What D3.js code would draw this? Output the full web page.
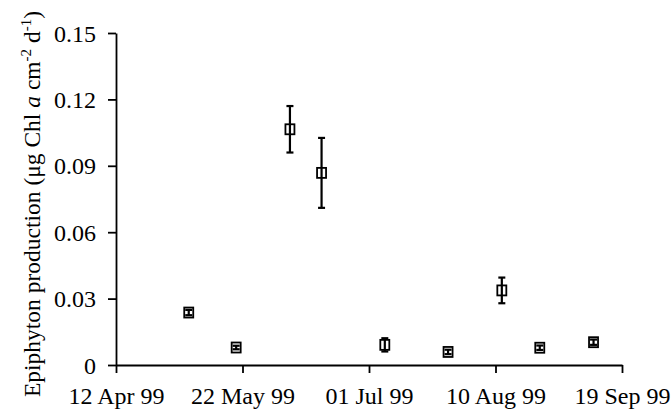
<!DOCTYPE html>
<html>
<head>
<meta charset="utf-8">
<script src="https://cdn.jsdelivr.net/npm/d3@7"></script>
<style>
  body { margin: 0; background: #fff; }
  svg text { font-family: "Liberation Serif", "Times New Roman", serif; fill: #000; }
</style>
</head>
<body>
<svg id="chart"></svg>
<script>
// sampling dates, mean production and error
const dates = ["1999-05-05", "1999-05-20", "1999-06-06", "1999-06-16", "1999-07-06",
               "1999-07-26", "1999-08-12", "1999-08-24", "1999-09-10"];
const means = [0.0237, 0.0079, 0.1065, 0.0868, 0.0091, 0.0059, 0.0337, 0.0078, 0.0103];
const errs  = [0.0012, 0.0008, 0.0105, 0.0158, 0.0030, 0.0010, 0.0058, 0.0010, 0.0012];

const xTicks = ["1999-04-12", "1999-05-22", "1999-07-01", "1999-08-10", "1999-09-19"];
const yTicks = [0, 0.03, 0.06, 0.09, 0.12, 0.15];

const W = 672, H = 415;
const parse = d3.timeParse("%Y-%m-%d");

const svg = d3.select('#chart')
  .attr('width', W)
  .attr('height', H);

const xScale = d3.scaleTime()
  .domain([parse(xTicks[0]), parse(xTicks[xTicks.length - 1])])
  .range([116, 622]);

const yScale = d3.scaleLinear()
  .domain([0, 0.15])
  .range([365, 33]);

const xAxis = svg.append('g')
  .attr('transform', `translate(0,365)`)
  .call(d3.axisBottom(xScale)
    .tickValues(xTicks.map(parse))
    .tickFormat(d3.timeFormat("%d %b %y"))
    .tickSize(8)
    .tickSizeOuter(0)
    .tickPadding(14));

const yAxis = svg.append('g')
  .attr('transform', `translate(116,0)`)
  .call(d3.axisLeft(yScale)
    .tickValues(yTicks)
    .tickFormat(d => d === 0 ? "0" : d3.format(".2f")(d))
    .tickSize(8)
    .tickSizeOuter(0)
    .tickPadding(12));

svg.selectAll('.domain, .tick line')
  .attr('stroke', '#000')
  .attr('stroke-width', 1.8);
svg.selectAll('.tick text')
  .attr('font-size', 24)
  .style('font-family', '"Liberation Serif", "Times New Roman", serif');
xAxis.selectAll('.tick text').attr('dy', '0.72em');
yAxis.selectAll('.tick text').attr('dy', '0.34em');

const data = dates.map((d, i) => ({ date: parse(d), mean: means[i], err: errs[i] }));

// markers
svg.append('g')
  .selectAll('rect')
  .data(data)
  .join('rect')
  .attr('x', d => xScale(d.date) - 4.5)
  .attr('y', d => yScale(d.mean) - 5)
  .attr('width', 9)
  .attr('height', 10)
  .attr('fill', '#fff')
  .attr('stroke', '#000')
  .attr('stroke-width', 1.8);

// error bars drawn over the markers
const bars = svg.append('g')
  .selectAll('g')
  .data(data)
  .join('g')
  .attr('stroke', '#000')
  .attr('stroke-width', 2.2);

bars.append('line')
  .attr('x1', d => xScale(d.date))
  .attr('x2', d => xScale(d.date))
  .attr('y1', d => yScale(d.mean + d.err))
  .attr('y2', d => yScale(d.mean - d.err));

bars.selectAll('line.cap')
  .data(d => [d.mean + d.err, d.mean - d.err].map(v => ({ date: d.date, v: v })))
  .join('line')
  .attr('class', 'cap')
  .attr('x1', d => xScale(d.date) - 3.5)
  .attr('x2', d => xScale(d.date) + 3.5)
  .attr('y1', d => yScale(d.v))
  .attr('y2', d => yScale(d.v));

// y label with italic a and superscripts
const label = svg.append('text')
  .attr('transform', 'translate(40,204) rotate(-90)')
  .attr('text-anchor', 'middle')
  .attr('font-size', 23.5);

label.append('tspan').text('Epiphyton production (\u03bcg Chl ');
label.append('tspan').attr('font-style', 'italic').text('a');
label.append('tspan').text(' cm');
label.append('tspan').attr('font-size', 15).attr('dy', -9).text('-2');
label.append('tspan').attr('dy', 9).text(' d');
label.append('tspan').attr('font-size', 15).attr('dy', -9).text('-1');
label.append('tspan').attr('dy', 9).text(')');
</script>
</body>
</html>
